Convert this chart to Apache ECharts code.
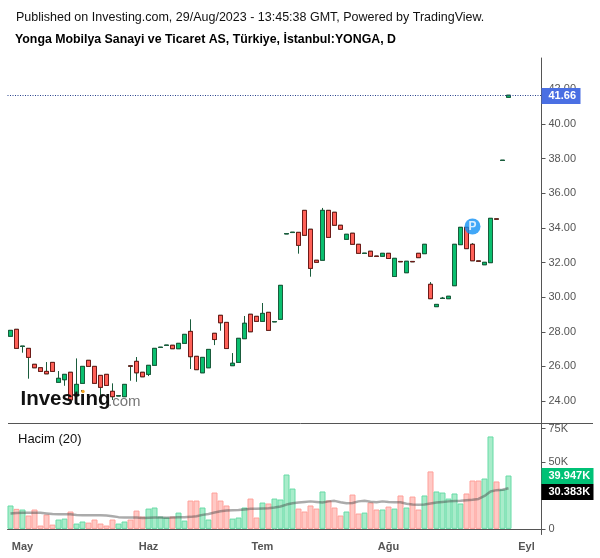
<!DOCTYPE html>
<html><head><meta charset="utf-8">
<style>html,body{margin:0;padding:0;background:#fff}#c{width:600px;height:558px}</style>
<script src="https://cdn.jsdelivr.net/npm/echarts@6/dist/echarts.min.js"></script>
</head><body><div id="c"></div>
<script>
const publishedLine = "Published on Investing.com, 29/Aug/2023 - 13:45:38 GMT, Powered by TradingView.";
const titleLine = "Yonga Mobilya Sanayi ve Ticaret AS, Türkiye, İstanbul:YONGA, D";
const monthTicks = {2:"May",23:"Haz",42:"Tem",63:"Ağu",86:"Eyl"};
const barCount = 89;
const priceTicks = [24,26,28,30,32,34,36,38,40,42];
const volumeTicks = [0,50,75];
const lastPrice = 41.66, lastVolume = "39.947K", lastVolumeMA = "30.383K";
const pinBar = 77, pinPrice = 34.08;
const opens = [27.74,28.14,27.15,27.04,26.12,25.92,25.71,26.23,25.08,25.23,25.66,24.29,25.02,26.35,26.00,25.48,25.54,24.56,24.29,24.25,26.03,26.29,25.66,25.54,26.06,27.09,27.21,27.22,27.02,27.33,28.02,26.58,25.63,25.92,27.91,28.95,28.54,26.04,26.23,27.60,29.01,28.89,28.60,29.12,28.57,28.72,33.65,33.73,33.74,35.01,33.92,32.13,32.13,35.01,34.90,34.15,33.34,33.69,33.05,32.52,32.65,32.37,32.36,32.53,31.19,32.06,31.41,32.06,32.53,32.51,30.74,29.45,29.92,29.91,30.66,33.03,34.03,33.05,32.09,31.87,31.99,34.52,37.89,41.54];
const closes = [28.08,27.04,27.17,26.52,25.92,25.71,25.57,25.71,25.31,25.54,24.06,24.96,26.00,26.00,25.02,24.79,24.90,24.25,24.31,24.96,26.01,25.63,25.40,26.06,27.04,27.11,27.23,27.02,27.33,27.85,26.56,25.81,26.52,26.98,27.55,28.52,27.03,26.18,27.62,28.49,28.00,28.60,29.06,28.08,28.59,30.68,33.67,33.75,32.99,33.57,31.66,32.01,35.01,33.45,34.15,33.92,33.63,33.05,32.53,32.54,32.36,32.35,32.53,32.23,32.24,32.04,32.07,32.04,32.28,33.05,29.91,29.58,29.94,30.05,33.05,34.03,32.80,32.10,32.07,32.01,34.55,34.50,37.91,41.66];
const lows = [27.74,27.04,26.79,25.29,25.92,25.71,25.57,25.71,25.08,24.88,24.06,24.29,25.02,26.00,25.02,24.23,24.90,24.06,24.29,24.25,25.17,25.11,25.40,25.44,26.06,27.09,27.21,27.02,27.02,27.33,25.85,25.81,25.63,25.92,27.23,28.06,27.03,26.04,26.23,27.60,28.00,28.60,28.60,28.08,28.57,28.72,33.65,33.73,32.51,33.57,31.18,32.01,32.13,33.45,34.15,33.92,33.34,33.05,32.53,32.52,32.36,32.35,32.36,32.23,31.19,32.04,31.41,32.04,32.28,32.51,29.91,29.45,29.92,29.91,30.66,33.03,32.80,32.10,32.07,31.87,31.99,34.50,37.89,41.54];
const highs = [28.08,28.14,27.17,27.04,26.12,25.92,26.25,26.23,25.73,25.54,25.66,26.46,26.00,26.35,26.00,25.48,25.54,25.02,24.31,24.96,26.03,26.54,25.66,26.06,27.04,27.11,27.23,27.22,27.33,27.85,28.72,26.58,26.52,26.98,27.91,28.95,28.54,26.77,27.62,28.91,29.01,28.89,29.66,29.12,28.59,30.68,33.67,33.75,33.74,35.01,33.92,32.13,35.15,35.01,34.90,34.15,33.63,33.69,33.05,32.54,32.65,32.37,32.53,32.53,32.24,32.06,32.07,32.06,32.53,33.05,30.87,29.58,30.01,30.05,33.05,34.03,34.03,33.12,32.09,32.01,34.55,34.52,37.91,41.66];
const volumes = [17.5,15,14.5,10,14.5,2.5,10.7,3.2,7,7.7,13,4,5.5,4.7,7,4,2.5,7,4,5.5,7,13.7,9.2,15.2,16,9.2,8.5,9.2,12.2,6.2,21.2,21.2,16,7,27.2,21.2,17.5,7.7,8.5,16,22.7,8.5,19.7,19,22.7,22,40.7,30.2,15.2,13,17.5,15.2,28,21.2,16,10,13,25.7,11.5,12.2,19.7,14.5,14.5,16.7,15.2,25,16,24.2,14.5,25,43,28,27.2,22.7,26.5,19,26.5,36.2,36.2,37.7,69.2,35.5,29.5,39.947];
const volumeMA = [11.5,11.9,12,12,12,12,11.6,11.2,11,11,10.9,10.4,10.2,10.2,10.2,10.2,10,9.5,8.8,8.5,8.5,8.5,8.2,8.4,8.5,8.5,8.4,8.6,8.7,8.7,9,9.5,10.5,11.2,12.3,13.2,13.7,14,14.1,14.6,15,15.1,15.3,15.5,16,16.8,18.2,19.2,19.7,20.2,20.6,20.2,19.7,20.6,21,19.9,19.2,19.4,20.6,21,20.4,20,20.6,20.1,20,20,18.8,18.2,18,18.2,19,19.8,20.2,20.6,20.9,21,21.4,21.8,22.4,24.7,28,29,29.3,30.383];

const categories = Array.from({length:barCount},(_,i)=>String(i));
const hasTick = i => monthTicks[i] !== undefined;
const GREY='#555', F='"Liberation Sans",Arial,sans-serif';
const wickData = opens.map((o,i)=>[o,closes[i],lows[i],highs[i]]);
const bodyData = opens.map((o,i)=>[o,closes[i],Math.min(o,closes[i]),Math.max(o,closes[i])]);
const volumeData = volumes.map((v,i)=>{
  const up = closes[i]>opens[i];
  return {value:v,itemStyle:{color:up?'#a8ecca':'#ffc9c5',borderColor:up?'#67dba6':'#ff9f99',borderWidth:1}};
});
function tag(x,y,w,h,fill,text){return [
  {type:'rect',z:50,shape:{x,y,width:w,height:h},style:{fill}},
  {type:'text',z:51,x:x+7,y:y+h/2,style:{text,fill:'#fff',font:'bold 11px '+F,align:'left',verticalAlign:'middle'}}];}
const chart = echarts.init(document.getElementById('c'),null,{renderer:'canvas'});
chart.setOption({
  animation:false,
  backgroundColor:'#fff',
  grid:[
    {left:7.5,right:58.5,top:58,height:365},
    {left:7.5,right:58.5,top:423.5,height:111}
  ],
  xAxis:[
    {type:'category',gridIndex:0,data:categories,boundaryGap:true,axisLine:{show:false},axisTick:{show:false},axisLabel:{show:false},splitLine:{show:false}},
    {type:'category',gridIndex:1,data:categories,boundaryGap:true,
      axisLine:{lineStyle:{color:GREY,width:1}},
      axisTick:{alignWithLabel:true,length:3,interval:i=>hasTick(i),lineStyle:{color:GREY}},
      axisLabel:{interval:i=>hasTick(i),formatter:(v,i)=>monthTicks[i]||'',color:GREY,fontFamily:F,fontSize:11,fontWeight:'bold',margin:7},
      splitLine:{show:false}}
  ],
  yAxis:[
    {type:'value',gridIndex:0,position:'right',scale:true,min:22.73,max:43.81,
      axisLine:{show:true,lineStyle:{color:GREY,width:1}},
      axisTick:{show:true,length:4,customValues:priceTicks,lineStyle:{color:GREY}},
      axisLabel:{customValues:priceTicks,formatter:v=>v.toFixed(2),color:GREY,fontFamily:F,fontSize:11,margin:7},
      splitLine:{show:false}},
    {type:'value',gridIndex:1,position:'right',min:-4.2,max:78.9,
      axisLine:{show:true,lineStyle:{color:GREY,width:1}},
      axisTick:{show:true,length:4,customValues:volumeTicks,lineStyle:{color:GREY}},
      axisLabel:{customValues:volumeTicks,formatter:v=>v?v+'K':'0',color:GREY,fontFamily:F,fontSize:11,margin:7},
      splitLine:{show:false}}
  ],
  series:[
    {type:'bar',xAxisIndex:1,yAxisIndex:1,data:volumeData,barWidth:'100%',z:2},
    {type:'line',xAxisIndex:1,yAxisIndex:1,data:volumeMA,showSymbol:false,smooth:false,z:3,
      lineStyle:{color:'#444',opacity:0.45,width:2.5}},
    {type:'candlestick',xAxisIndex:0,yAxisIndex:0,data:wickData,barWidth:5,z:3,
      itemStyle:{color:'#1a5c3c',color0:'#1a5c3c',borderColor:'#1a5c3c',borderColor0:'#1a5c3c',borderWidth:1},
      markLine:{silent:true,symbol:'none',animation:false,label:{show:false},
        lineStyle:{color:'#27408b',type:[1,1.5],width:1},data:[{yAxis:lastPrice}]}},
    {type:'candlestick',xAxisIndex:0,yAxisIndex:0,data:bodyData,barWidth:5,z:4,
      itemStyle:{color:'#0abf6f',color0:'#ff6158',borderColor:'#1a5c3c',borderColor0:'#6e1a18',borderWidth:1}},
    {type:'scatter',xAxisIndex:0,yAxisIndex:0,data:[[pinBar,pinPrice]],symbol:'circle',symbolSize:16,z:6,
      itemStyle:{color:'#1291f5'},
      label:{show:true,position:'inside',formatter:'P',color:'#fff',fontFamily:F,fontSize:12,fontWeight:'bold'}}
  ],
  graphic:[
    {type:'text',x:16,y:11,style:{text:publishedLine,fill:'#111',font:'12.5px '+F}},
    {type:'text',x:15,y:34,style:{text:titleLine,fill:'#000',font:'bold 12.35px '+F}},
    {type:'text',x:18,y:433,style:{text:'Hacim (20)',fill:'#111',font:'13px '+F}},
    {type:'line',z:40,shape:{x1:8,y1:423.5,x2:593,y2:423.5},style:{stroke:GREY,lineWidth:1}},
    {type:'text',z:45,x:20.5,y:389,style:{text:'Investing',fill:'#111',font:'bold 20.5px '+F}},
    {type:'text',z:45,x:108,y:394,style:{text:'.com',fill:'#777',font:'15px '+F}},
    {type:'circle',z:46,shape:{cx:83,cy:391.5,r:1.7},style:{fill:'#f5a623'}},
    ...tag(541.5,88,39,16,'#4a6fe3',lastPrice.toFixed(2)),
    ...tag(541.5,468,52,16,'#00c176',lastVolume),
    ...tag(541.5,484,52,16,'#000',lastVolumeMA)
  ]
});
</script></body></html>
